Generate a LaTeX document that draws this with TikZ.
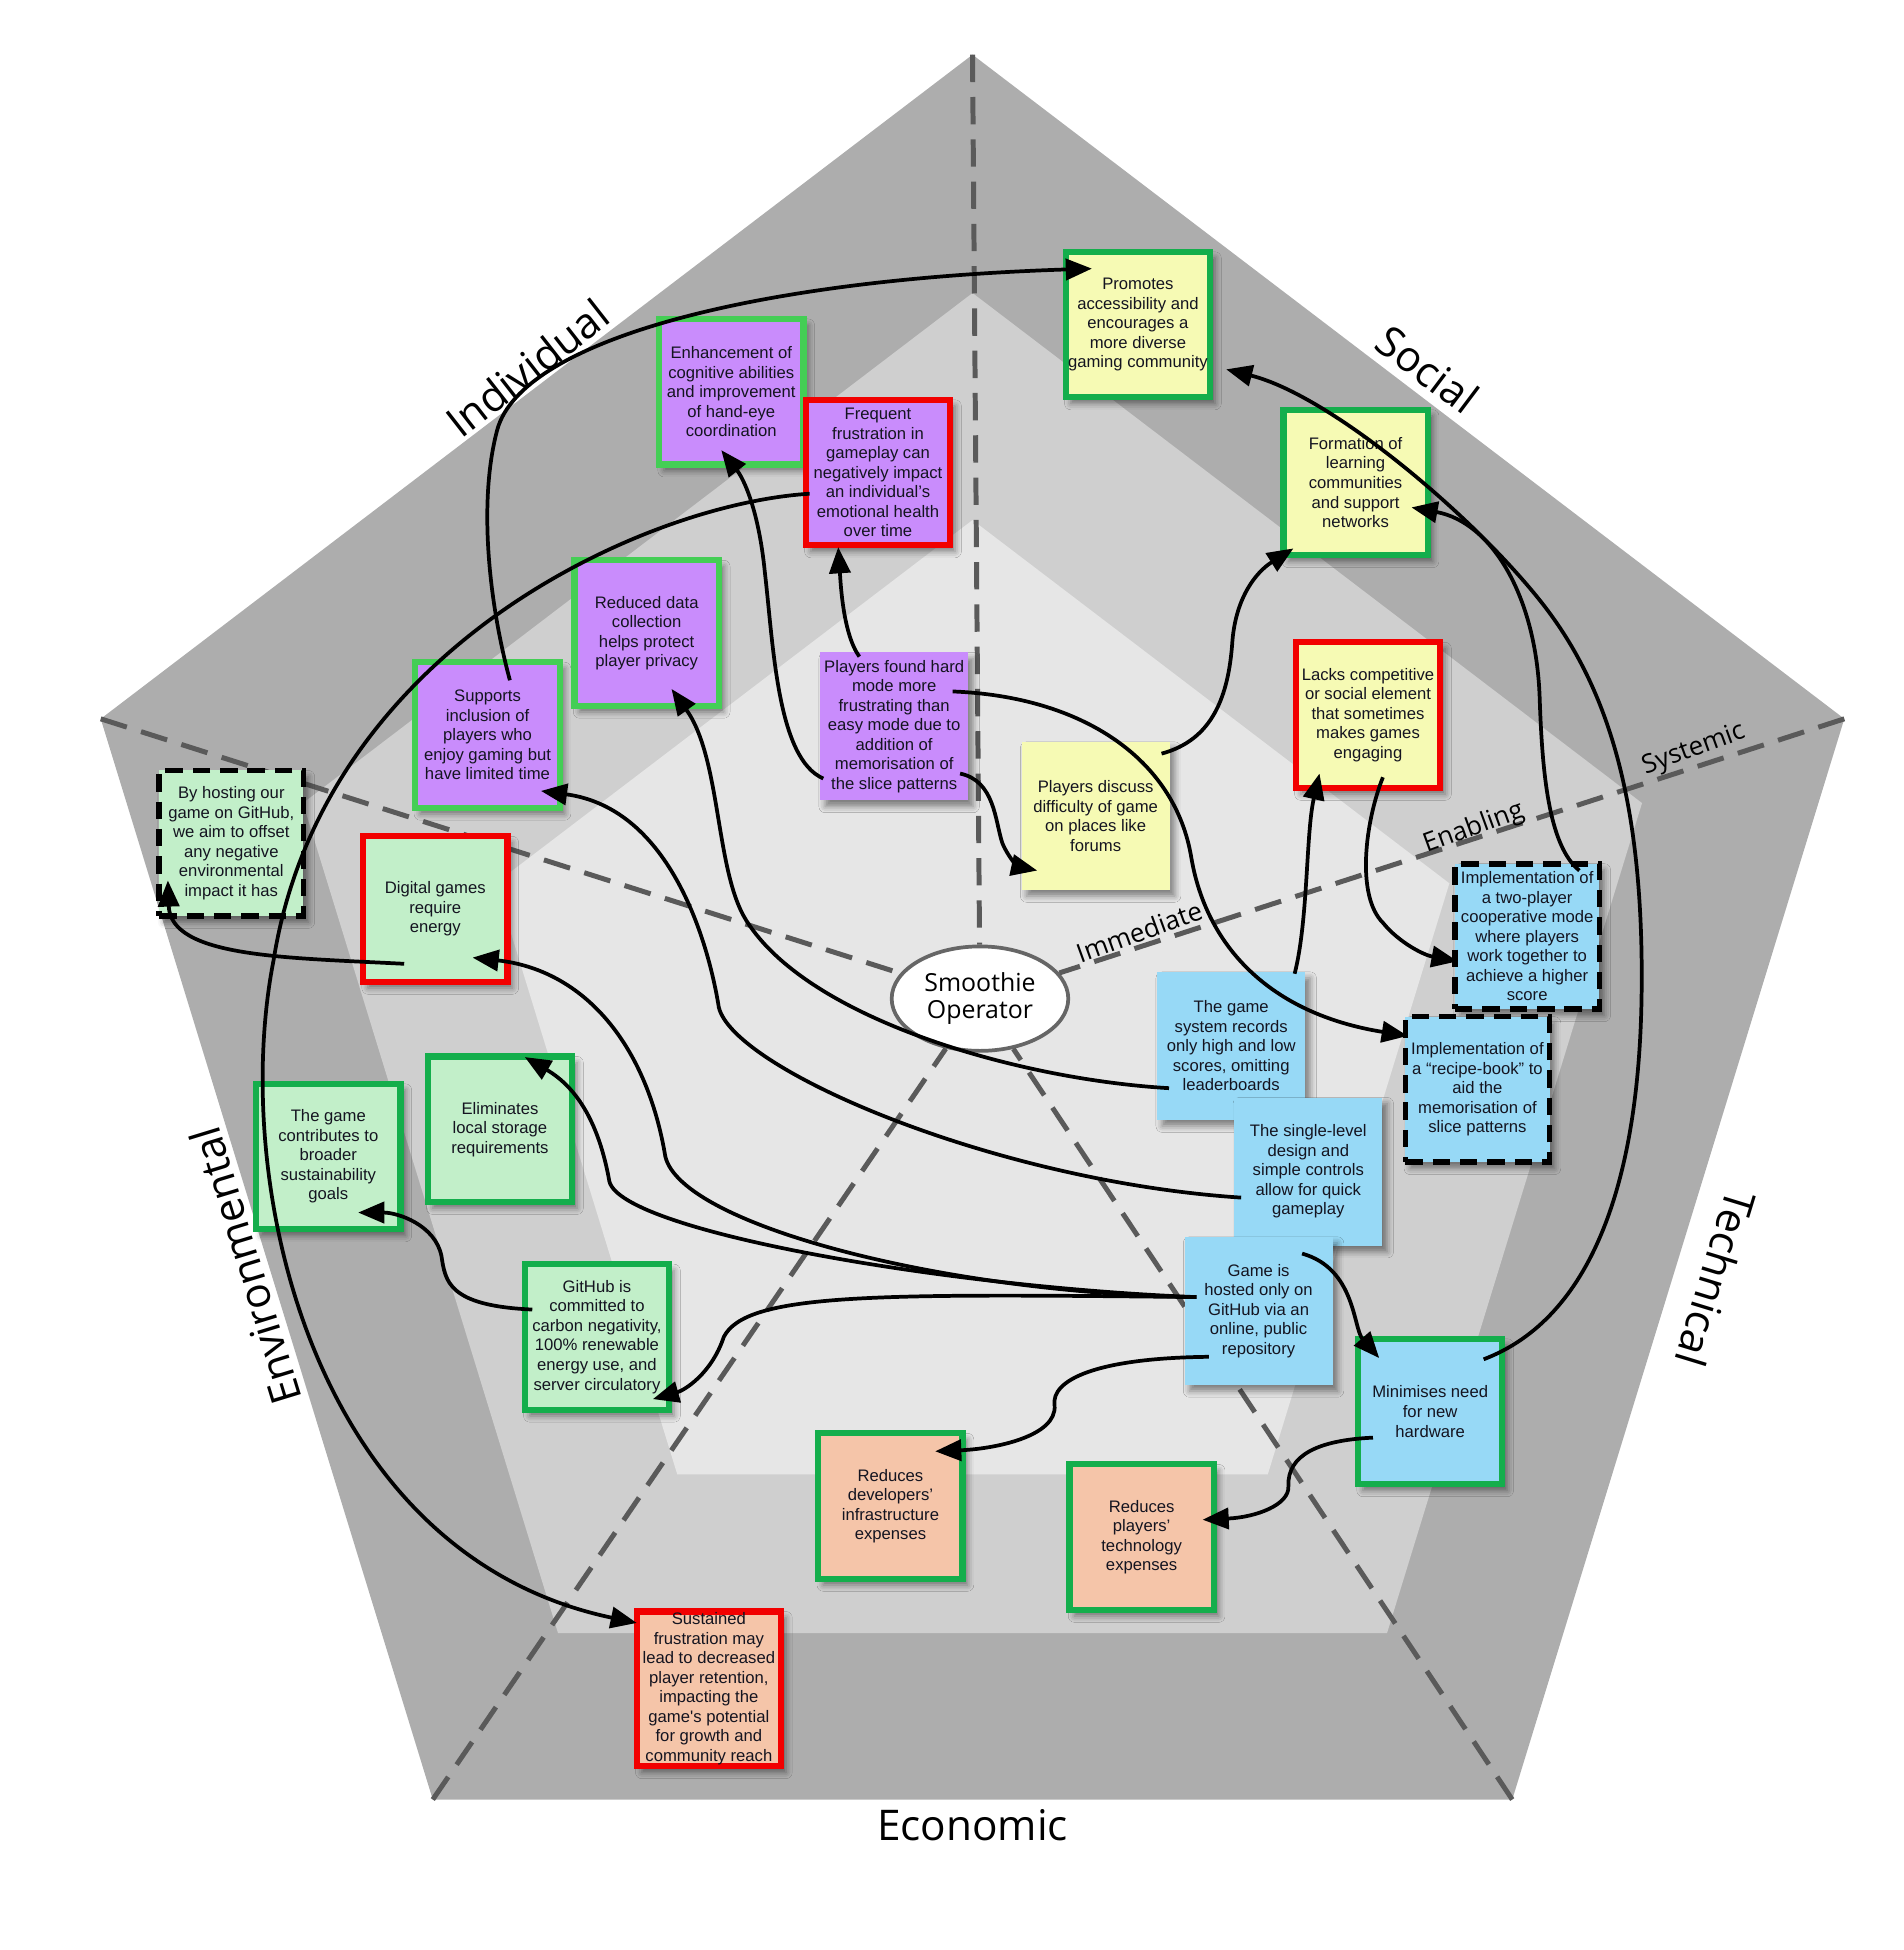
\documentclass[tikz,border=0pt]{standalone}
\usepackage{fontspec}
\setmainfont{Liberation Sans}
\newfontfamily\headfont{Open Sans}
\usetikzlibrary{arrows.meta,calc,shapes.geometric,shadows.blur}
\definecolor{bandouter}{HTML}{ADADAD}
\definecolor{bandmiddle}{HTML}{CFCFCF}
\definecolor{bandinner}{HTML}{E6E6E6}
\definecolor{spokegrey}{HTML}{5A5A5A}
\definecolor{hubedge}{HTML}{666666}
\definecolor{notepurple}{HTML}{C98CFC}
\definecolor{noteyellow}{HTML}{F6FAB4}
\definecolor{notegreen}{HTML}{C2EFC9}
\definecolor{noteblue}{HTML}{97D9F6}
\definecolor{notesalmon}{HTML}{F5C5A9}
\definecolor{edgegreen}{HTML}{14AE4C}
\definecolor{edgelime}{HTML}{44CE55}
\definecolor{edgered}{HTML}{F20000}
\definecolor{notetext}{HTML}{141420}

\begin{document}
\begin{tikzpicture}[
  x=1pt,
  y=-1pt,
  note/.style={rectangle, minimum width=116pt, minimum height=117pt, inner sep=1pt,
               align=center, text=notetext, font=\fontsize{13.4}{15.7}\selectfont,
               blur shadow={shadow xshift=4pt, shadow yshift=-5pt,
                            shadow blur radius=5pt, shadow opacity=45}},
  good/.style={draw=edgegreen, line width=5pt},
  fine/.style={draw=edgelime, line width=5pt},
  harm/.style={draw=edgered, line width=5pt},
  plan/.style={draw=black, line width=4.5pt, dash pattern=on 14pt off 8pt},
  bare/.style={minimum width=119pt, minimum height=119pt},
  link/.style={line width=3pt, -{Triangle[length=21pt, width=17pt]}},
  spoke/.style={spokegrey, line width=4pt, dash pattern=on 22pt off 12pt},
  sector/.style={font=\headfont\fontsize{34}{40}\selectfont},
  horizon/.style={font=\headfont\fontsize{21}{24}\selectfont, rotate=20}
]
  % ---- page frame ----
  \useasboundingbox (0,0) rectangle (1531,1568);

  % ---- pentagon bands ----
  \coordinate (p1) at (782,44);
  \coordinate (p2) at (1483,578);
  \coordinate (p3) at (1216,1447);
  \coordinate (p4) at (348,1447);
  \coordinate (p5) at (81,578);
  \coordinate (ctr) at (782,870);
  \fill[bandouter] (p1) -- (p2) -- (p3) -- (p4) -- (p5) -- cycle;
  \fill[bandmiddle] ($(ctr)!0.768!(p1)$) -- ($(ctr)!0.768!(p2)$) -- ($(ctr)!0.768!(p3)$)
    -- ($(ctr)!0.768!(p4)$) -- ($(ctr)!0.768!(p5)$) -- cycle;
  \fill[bandinner] ($(ctr)!0.547!(p1)$) -- ($(ctr)!0.547!(p2)$) -- ($(ctr)!0.547!(p3)$)
    -- ($(ctr)!0.547!(p4)$) -- ($(ctr)!0.547!(p5)$) -- cycle;

  % ---- centre and spokes ----
  \node[ellipse, draw=hubedge, fill=white, line width=3pt, minimum width=142pt,
        minimum height=84pt, inner sep=0pt, align=center,
        font=\headfont\fontsize{20}{22}\selectfont] (hub) at (788,803) {Smoothie\\Operator};
  \draw[spoke] (p1) -- (hub);
  \draw[spoke] (p2) -- (hub);
  \draw[spoke] (p3) -- (hub);
  \draw[spoke] (p4) -- (hub);
  \draw[spoke] (p5) -- (hub);

  % ---- sector and horizon labels ----
  \node[sector, rotate=38] (individual) at (424,296) {Individual};
  \node[sector, rotate=-37] (social) at (1148,297) {Social};
  \node[sector, rotate=-107] (technical) at (1380,1028) {Technical};
  \node[sector, rotate=107] (environmental) at (197,1018) {Environmental};
  \node[sector] (economic) at (782,1468) {Economic};
  \node[horizon] (systemic) at (1362,603) {Systemic};
  \node[horizon] (enabling) at (1185,666) {Enabling};
  \node[horizon] (immediate) at (916,749) {Immediate};

  % ---- social notes ----
  \node[note, good, fill=noteyellow] (promo) at (915,261)
    {Promotes\\accessibility and\\encourages a\\more diverse\\gaming community};
  \node[note, good, fill=noteyellow] (formation) at (1090,388)
    {Formation of\\learning\\communities\\and support\\networks};
  \node[note, harm, fill=noteyellow] (lacks) at (1100,575)
    {Lacks competitive\\or social element\\that sometimes\\makes games\\engaging};
  \node[note, bare, fill=noteyellow] (discuss) at (881,656)
    {Players discuss\\difficulty of game\\on places like\\forums};

  % ---- individual notes ----
  \node[note, fine, fill=notepurple] (enhance) at (588,315)
    {Enhancement of\\cognitive abilities\\and improvement\\of hand-eye\\coordination};
  \node[note, harm, fill=notepurple] (frequent) at (706,380)
    {Frequent\\frustration in\\gameplay can\\negatively impact\\an individual’s\\emotional health\\over time};
  \node[note, fine, fill=notepurple] (reduced) at (520,509)
    {Reduced data\\collection\\helps protect\\player privacy};
  \node[note, fine, fill=notepurple] (supports) at (392,591)
    {Supports\\inclusion of\\players who\\enjoy gaming but\\have limited time};
  \node[note, bare, fill=notepurple] (hardmode) at (719,584)
    {Players found hard\\mode more\\frustrating than\\easy mode due to\\addition of\\memorisation of\\the slice patterns};

  % ---- environmental notes ----
  \node[note, plan, fill=notegreen] (hosting) at (186,678)
    {By hosting our\\game on GitHub,\\we aim to offset\\any negative\\environmental\\impact it has};
  \node[note, harm, fill=notegreen] (digital) at (350,731)
    {Digital games\\require\\energy};
  \node[note, good, fill=notegreen] (eliminates) at (402,908)
    {Eliminates\\local storage\\requirements};
  \node[note, good, fill=notegreen] (contributes) at (264,930)
    {The game\\contributes to\\broader\\sustainability\\goals};
  \node[note, good, fill=notegreen] (carbon) at (480,1075)
    {GitHub is\\committed to\\carbon negativity,\\100\% renewable\\energy use, and\\server circulatory};

  % ---- economic notes ----
  \node[note, good, fill=notesalmon] (devexp) at (716,1211)
    {Reduces\\developers’\\infrastructure\\expenses};
  \node[note, good, fill=notesalmon] (playexp) at (918,1236)
    {Reduces\\players’\\technology\\expenses};
  \node[note, harm, fill=notesalmon] (sustained) at (570,1358)
    {Sustained\\frustration may\\lead to decreased\\player retention,\\impacting the\\game\textquotesingle s potential\\for growth and\\community reach};

  % ---- technical notes ----
  \node[note, bare, fill=noteblue] (records) at (990,841)
    {The game\\system records\\only high and low\\scores, omitting\\leaderboards};
  \node[note, bare, fill=noteblue] (single) at (1052,942)
    {The single-level\\design and\\simple controls\\allow for quick\\gameplay};
  \node[note, bare, fill=noteblue] (hosted) at (1012,1054)
    {Game is\\hosted only on\\GitHub via an\\online, public\\repository};
  \node[note, good, fill=noteblue] (hardware) at (1150,1135)
    {Minimises need\\for new\\hardware};
  \node[note, plan, fill=noteblue] (twoplayer) at (1228,753)
    {Implementation of\\a two-player\\cooperative mode\\where players\\work together to\\achieve a higher\\score};
  \node[note, plan, fill=noteblue] (recipe) at (1188,876)
    {Implementation of\\a “recipe-book” to\\aid the\\memorisation of\\slice patterns};

  % ---- connectors ----
  \draw[link] ($(supports)+(18,-44)$) .. controls (392,480) and (385,400) .. (400,345)
    .. controls (420,275) and (600,225) .. ($(promo)+(-37,-45)$);
  \draw[link] ($(hardware)+(43,-42)$) .. controls (1280,1060) and (1318,950) .. (1320,800)
    .. controls (1322,650) and (1295,555) .. (1240,485)
    .. controls (1185,415) and (1070,318) .. ($(promo)+(71,36)$);
  \draw[link] ($(discuss)+(53,-50)$) .. controls (975,595) and (988,560) .. (991,515)
    .. controls (994,480) and (1010,460) .. ($(formation)+(-50,53)$);
  \draw[link] ($(twoplayer)+(42,-53)$) .. controls (1245,680) and (1240,620) .. (1238,560)
    .. controls (1235,480) and (1200,420) .. ($(formation)+(45,20)$);
  \draw[link] ($(lacks)+(12,50)$) .. controls (1098,660) and (1090,720) .. (1112,742)
    .. controls (1125,758) and (1145,768) .. ($(twoplayer)+(-56,20)$);
  \draw[link] ($(records)+(51,-58)$) .. controls (1052,740) and (1050,670) .. ($(lacks)+(-39,47)$);
  \draw[link] ($(hardmode)+(47,-28)$) .. controls (870,560) and (945,610) .. (958,690)
    .. controls (970,760) and (1020,815) .. ($(recipe)+(-56,-43)$);
  \draw[link] ($(hardmode)+(53,38)$) .. controls (800,628) and (800,660) .. (806,678)
    .. controls (812,692) and (820,697) .. ($(discuss)+(-47,44)$);
  \draw[link] ($(hardmode)+(-28,-56)$) .. controls (678,510) and (676,470) .. ($(frequent)+(-32,60)$);
  \draw[link] ($(hardmode)+(-57,42)$) .. controls (625,610) and (622,520) .. (615,460)
    .. controls (610,410) and (598,385) .. ($(enhance)+(-8,47)$);
  \draw[link] ($(frequent)+(-55,17)$) .. controls (520,405) and (260,520) .. (220,772)
    .. controls (185,950) and (250,1250) .. ($(sustained)+(-58,-53)$);
  \draw[link] ($(records)+(-50,34)$) .. controls (820,868) and (650,820) .. (600,740)
    .. controls (575,700) and (580,610) .. ($(reduced)+(20,45)$);
  \draw[link] ($(single)+(-54,21)$) .. controls (800,950) and (590,860) .. (578,810)
    .. controls (570,760) and (540,650) .. ($(supports)+(43,45)$);
  \draw[link] ($(hosted)+(-50,-11)$) .. controls (760,1040) and (548,985) .. (535,930)
    .. controls (520,840) and (470,780) .. ($(digital)+(30,39)$);
  \draw[link] ($(hosted)+(-50,-11)$) .. controls (760,1035) and (500,990) .. (490,950)
    .. controls (482,905) and (465,875) .. ($(eliminates)+(20,-58)$);
  \draw[link] ($(hosted)+(-50,-11)$) .. controls (700,1040) and (600,1040) .. (582,1075)
    .. controls (572,1105) and (550,1118) .. ($(carbon)+(45,50)$);
  \draw[link] ($(hosted)+(35,-46)$) .. controls (1090,1020) and (1088,1068) .. ($(hardware)+(-41,-43)$);
  \draw[link] ($(hosted)+(-40,37)$) .. controls (880,1092) and (845,1110) .. (848,1130)
    .. controls (850,1155) and (800,1165) .. ($(devexp)+(36,-44)$);
  \draw[link] ($(hardware)+(-46,21)$) .. controls (1060,1158) and (1035,1170) .. (1036,1195)
    .. controls (1037,1210) and (1010,1220) .. ($(playexp)+(49,-14)$);
  \draw[link] ($(carbon)+(-52,-22)$) .. controls (360,1050) and (358,1030) .. (355,1010)
    .. controls (350,985) and (320,975) .. ($(contributes)+(24,45)$);
  \draw[link] ($(digital)+(-25,44)$) .. controls (230,770) and (137,770) .. ($(hosting)+(-51,30)$);
\end{tikzpicture}
\end{document}
